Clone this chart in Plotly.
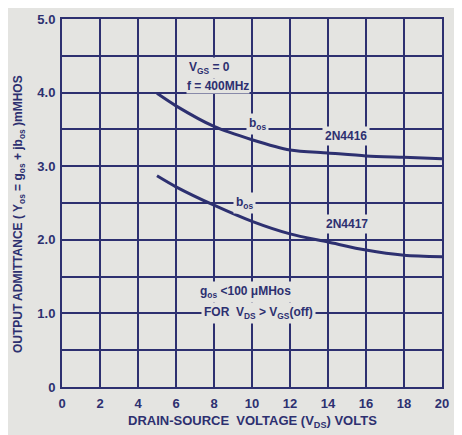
import plotly.graph_objects as go

# Data
vds = [5, 6, 8, 10, 12, 14, 16, 18, 20]
y_2n4416 = [3.99, 3.82, 3.54, 3.36, 3.22, 3.18, 3.14, 3.12, 3.10]
y_2n4417 = [2.87, 2.72, 2.47, 2.25, 2.08, 1.97, 1.86, 1.79, 1.77]

x_ticks = [0, 2, 4, 6, 8, 10, 12, 14, 16, 18, 20]
y_tickvals = [0, 0.5, 1, 1.5, 2, 2.5, 3, 3.5, 4, 4.5, 5]
y_ticktext = ["0", "", "1.0", "", "2.0", "", "3.0", "", "4.0", "", "5.0"]

BG = "#e4e4e1"
INK = "#2d3070"
FONT = "Liberation Sans"

fig = go.Figure()
for ys in (y_2n4416, y_2n4417):
    fig.add_trace(go.Scatter(x=vds, y=ys, mode="lines",
                             line=dict(color=INK, width=3, shape="spline", smoothing=0.8),
                             showlegend=False, hoverinfo="skip"))

ann_font = dict(family=FONT, size=12, color=INK, weight="bold")

def ann(x, y, text, xanchor="center", align="center", pad=2):
    fig.add_annotation(x=x, y=y, xref="x", yref="y", text=text, showarrow=False,
                       xanchor=xanchor, yanchor="middle", align=align,
                       font=ann_font, bgcolor=BG, borderpad=pad)

ann(6.55, 4.33, "V<sub>GS</sub> = 0", xanchor="left")
ann(6.55, 4.09, "f = 400MHz", xanchor="left", pad=0)
ann(10.3, 3.57, "b<sub>os</sub>")
ann(14.95, 3.41, "2N4416")
ann(9.6, 2.50, "b<sub>os</sub>")
ann(15.0, 2.21, "2N4417")
ann(7.1, 1.29, "g<sub>os</sub> &lt;100 μMHos", xanchor="left")
ann(7.3, 1.0, "FOR  V<sub>DS</sub> &gt; V<sub>GS</sub>(off)", xanchor="left")

fig.add_annotation(xref="paper", yref="paper", x=0.5, y=-0.095, yanchor="middle",
                   text="DRAIN-SOURCE  VOLTAGE (V<sub>DS</sub>) VOLTS", showarrow=False,
                   font=dict(family=FONT, size=13, color=INK, weight="bold"))
fig.add_annotation(xref="paper", yref="paper", x=-0.113, y=0.47, xanchor="center",
                   text="OUTPUT ADMITTANCE ( Y<sub>os</sub> = g<sub>os</sub> + jb<sub>os</sub> )mMHOS",
                   textangle=-90, showarrow=False,
                   font=dict(family=FONT, size=12, color=INK, weight="bold"))

axis_common = dict(showline=True, linecolor=INK, linewidth=2, mirror=True,
                   showgrid=True, gridcolor=INK, gridwidth=1.6, zeroline=False,
                   ticklabeloverflow="allow",
                   tickfont=dict(family=FONT, size=13, color=INK, weight="bold"), ticks="")

fig.update_xaxes(range=[0, 20], tickvals=x_ticks, ticklabelstandoff=3, **axis_common)
fig.update_yaxes(range=[0, 5], tickvals=y_tickvals, ticktext=y_ticktext,
                 ticklabelstandoff=2, **axis_common)

# page body has an 8px margin, so the figure is sized/offset to compensate
fig.update_layout(width=454, height=427, paper_bgcolor=BG, plot_bgcolor=BG,
                  margin=dict(l=54, r=20, t=4, b=48),
                  font=dict(family=FONT, color=INK))

fig.write_html("out.html")
